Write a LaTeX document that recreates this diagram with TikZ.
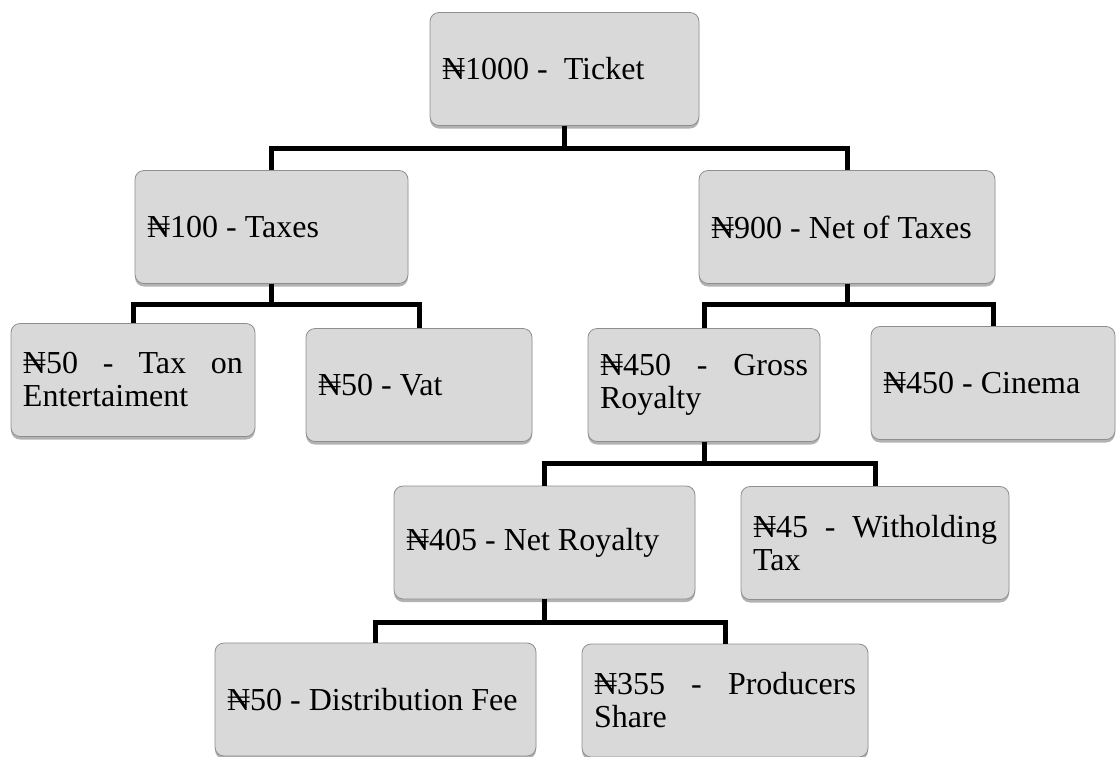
\documentclass[tikz,border=0pt]{standalone}
\usepackage{fontspec}
\setmainfont{Liberation Serif}
\usetikzlibrary{shadows}
\definecolor{boxfill}{HTML}{D9D9D9}
\definecolor{boxline}{HTML}{8E8E8E}
\hyphenpenalty=10000 \tolerance=9999
\tikzset{
  box/.style={draw=boxline,fill=boxfill,line width=.8pt,rounded corners=9pt,
    inner xsep=12pt,inner ysep=0pt,minimum height=113pt,align=justify,
    font=\fontsize{32}{33}\selectfont,
    drop shadow={shadow xshift=0pt,shadow yshift=-3pt,opacity=.3,fill=black}},
  link/.style={line width=5pt}
}

\begin{document}
\begin{tikzpicture}[x=1pt,y=-1pt]
\useasboundingbox (0,0) rectangle (1117,756);
% boxes: name/x/y/width/text
\foreach \n/\x/\y/\w/\t in {tix/564.5/69/269/{₦1000 -~ Ticket},tax/271.5/227/273/{₦100 - Taxes},net/847/227/296/{₦900 - Net of Taxes},ent/133/380/244/{₦50 - Tax on Entertaiment},vat/419/385/226/{₦50 - Vat},gro/704/385/232/{₦450 - Gross Royalty},cin/993/383/244/{₦450 - Cinema},nro/544.5/542.5/301/{₦405 - Net Royalty},wit/875/543/268/{₦45 - Witholding Tax},dis/375.5/699.5/321/{₦50 - Distribution Fee},pro/725/700.5/286/{₦355 - Producers Share}}{\pgfmathsetmacro\tw{\w-24}\node[box,text width=\tw pt] (\n) at (\x,\y) {\t};}
% bars
\coordinate (b1) at (tix.south |- 0,148);
\coordinate (b2) at (tax.south |- 0,304);
\coordinate (b3) at (net.south |- 0,304);
\coordinate (b4) at (gro.south |- 0,463);
\coordinate (b5) at (nro.south |- 0,622);
\foreach \p/\b/\c in {tix/b1/tax,tix/b1/net,tax/b2/ent,tax/b2/vat,net/b3/gro,net/b3/cin,gro/b4/nro,gro/b4/wit,nro/b5/dis,nro/b5/pro}{\draw[link] (\p.south) -- (\b) -| (\c.north);}
\end{tikzpicture}
\end{document}
